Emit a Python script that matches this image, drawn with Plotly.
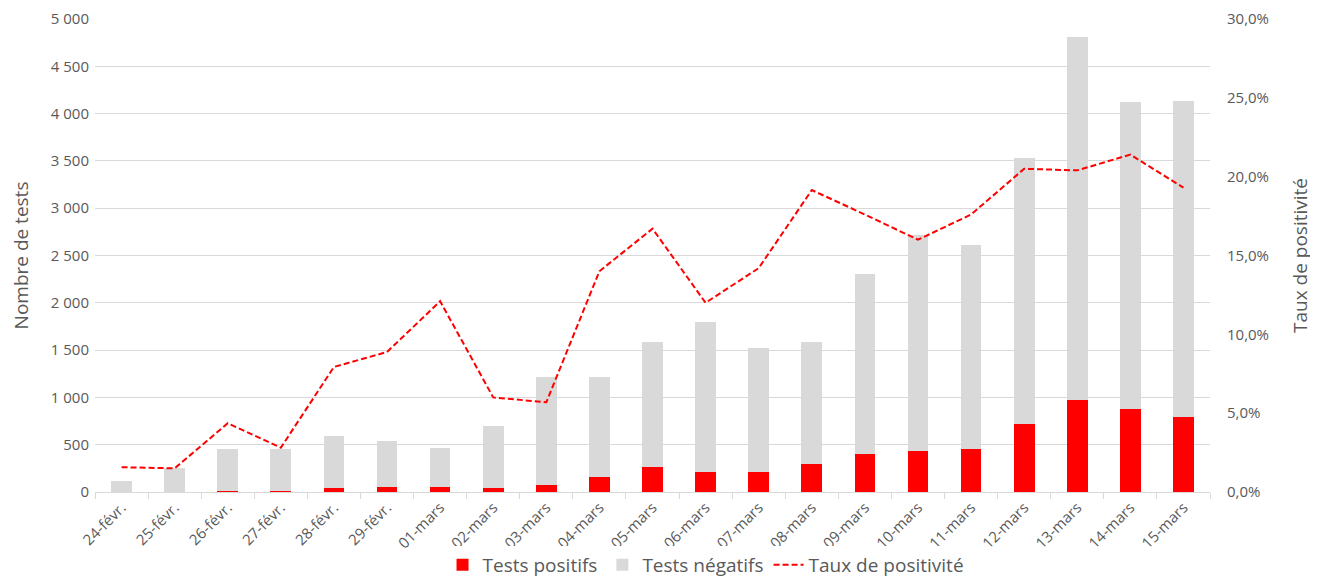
import plotly.graph_objects as go

dates = ["24-févr.", "25-févr.", "26-févr.", "27-févr.", "28-févr.", "29-févr.",
         "01-mars", "02-mars", "03-mars", "04-mars", "05-mars", "06-mars", "07-mars",
         "08-mars", "09-mars", "10-mars", "11-mars", "12-mars", "13-mars", "14-mars", "15-mars"]
positifs = [2, 4, 14, 10, 47, 48, 57, 42, 70, 162, 261, 211, 213, 299, 398, 430, 454, 719, 976, 877, 796]
totaux = [120, 254, 451, 455, 592, 539, 465, 698, 1215, 1215, 1585, 1797, 1522, 1585, 2304, 2716, 2611, 3530, 4809, 4122, 4133]
negatifs = [t - p for t, p in zip(totaux, positifs)]
taux = [0.0157, 0.015, 0.0436, 0.0281, 0.0793, 0.0888, 0.121, 0.060, 0.0569, 0.140, 0.167,
        0.120, 0.142, 0.1915, 0.176, 0.160, 0.176, 0.205, 0.204, 0.214, 0.193]

TXT = "#595959"
GRID = "#d9d9d9"
FONT = "Open Sans, Liberation Sans, sans-serif"

fig = go.Figure()
fig.add_trace(go.Bar(x=dates, y=positifs, name="Tests positifs", marker=dict(color="#ff0000", line=dict(width=0))))
fig.add_trace(go.Bar(x=dates, y=negatifs, name="Tests négatifs", marker=dict(color="#d9d9d9", line=dict(width=0))))
fig.add_trace(go.Scatter(x=dates, y=taux, name="Taux de positivité", yaxis="y2", mode="lines",
                         line=dict(color="#ff0000", width=2, dash="6px,3px")))

fig.update_layout(
    width=1310, height=571,
    barmode="stack", bargap=0.61,
    separators=", ",
    plot_bgcolor="white", paper_bgcolor="white",
    font=dict(family=FONT, color=TXT, size=14),
    margin=dict(l=87, r=108, t=11, b=87, autoexpand=False),
    xaxis=dict(type="category", tickangle=-45, ticks="outside", tickson="boundaries",
               ticklen=6, tickcolor=GRID, showline=True, linecolor=GRID, linewidth=1,
               showgrid=False, tickfont=dict(size=15, color=TXT), automargin=False),
    yaxis=dict(range=[0, 5000], dtick=500,
               tickformat=",d", showgrid=True, gridcolor=GRID, ticklabeloverflow="allow",
               zeroline=False, showline=False, ticks="", tickfont=dict(size=15, color=TXT),
               automargin=False, ticklabelstandoff=5,
               title=dict(text="Nombre de tests", font=dict(size=19, color=TXT), standoff=29)),
    yaxis2=dict(range=[0, 0.30], dtick=0.05, ticklabeloverflow="allow",
                tickformat=".1%", overlaying="y", side="right",
                showgrid=False, zeroline=False, showline=False, ticks="",
                tickfont=dict(size=15, color=TXT), automargin=False, ticklabelstandoff=16,
                title=dict(text="Taux de positivité", font=dict(size=19, color=TXT), standoff=25)),
    legend=dict(orientation="h", x=0.548, xanchor="center", y=-0.154, yanchor="middle",
                font=dict(size=19, color=TXT), traceorder="normal", itemwidth=30),
    showlegend=True,
)

fig.write_html("out.html")
